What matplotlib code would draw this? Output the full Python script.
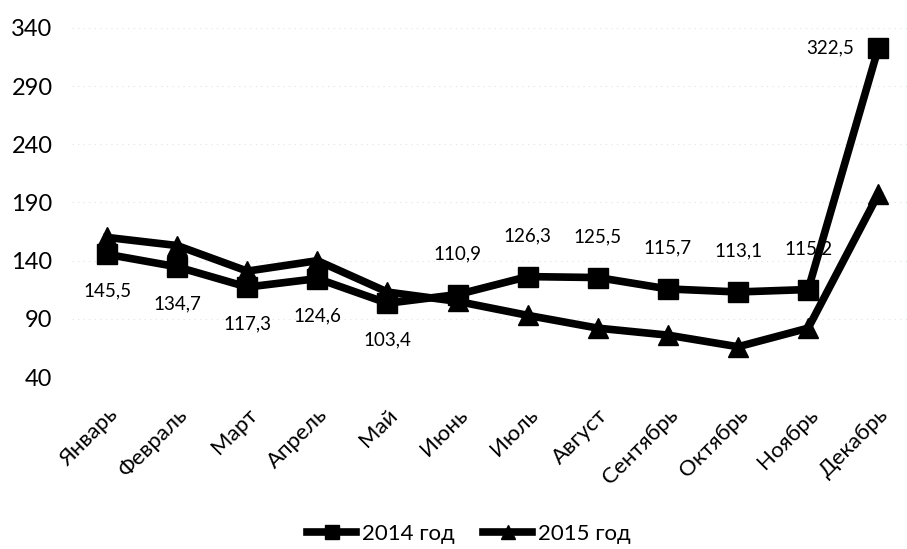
import numpy as np
import matplotlib
matplotlib.use("Agg")
import matplotlib.pyplot as plt

plt.rcParams['font.family'] = ['Lato', 'DejaVu Sans']

months = ["Январь", "Февраль", "Март", "Апрель", "Май", "Июнь",
          "Июль", "Август", "Сентябрь", "Октябрь", "Ноябрь", "Декабрь"]
values_2014 = [145.5, 134.7, 117.3, 124.6, 103.4, 110.9,
               126.3, 125.5, 115.7, 113.1, 115.2, 322.5]
# 2015 values are not labelled
values_2015 = [160, 153, 131, 140, 113, 105, 93, 82, 76, 66, 82, 197]
label_pos = ["below"] * 5 + ["above"] * 6 + ["left"]
yticks = [40, 90, 140, 190, 240, 290, 340]

fig = plt.figure(figsize=(9.07, 5.49), dpi=100)
ax = fig.add_axes([72 / 907, 1 - 377 / 549, 835 / 907, 349 / 549])

x = np.arange(len(months))
ax.plot(x, values_2014, color="black", lw=5.5, marker="s", ms=15,
        label="2014 год", solid_joinstyle="round")
ax.plot(x, values_2015, color="black", lw=5.5, marker="^", ms=15,
        label="2015 год", solid_joinstyle="round")

offsets = {"below": (0, -37), "above": (0, 41), "left": (-48, 0)}
for xi, v, p in zip(x, values_2014, label_pos):
    dx, dy = offsets[p]
    ax.annotate(("%.1f" % v).replace(".", ","), (xi, v), xytext=(dx, dy),
                textcoords="offset pixels", ha="center", va="center",
                fontsize=13.5, color="black")

ax.set_xlim(-0.5, 11.41)
ax.set_ylim(40, 340)
ax.set_yticks(yticks)
ax.set_yticklabels([str(t) for t in yticks], fontsize=17)
ax.set_xticks(x)
ax.set_xticklabels(months, rotation=45, ha="right", va="top",
                   rotation_mode="anchor", fontsize=16)
ax.tick_params(axis="both", length=0)
ax.tick_params(axis="y", pad=14)
ax.tick_params(axis="x", pad=20)
ax.grid(axis="y", color="#e2e2e2", lw=0.8, ls=(0, (1, 4)))
ax.set_axisbelow(True)
for s in ax.spines.values():
    s.set_visible(False)

fig.legend(loc="center", bbox_to_anchor=(469 / 907, 1 - 534 / 549), ncol=2,
           frameon=False, fontsize=16, handlelength=2.2, columnspacing=1.3,
           handletextpad=0.25, markerscale=0.65)

fig.savefig("out.png", dpi=100)
